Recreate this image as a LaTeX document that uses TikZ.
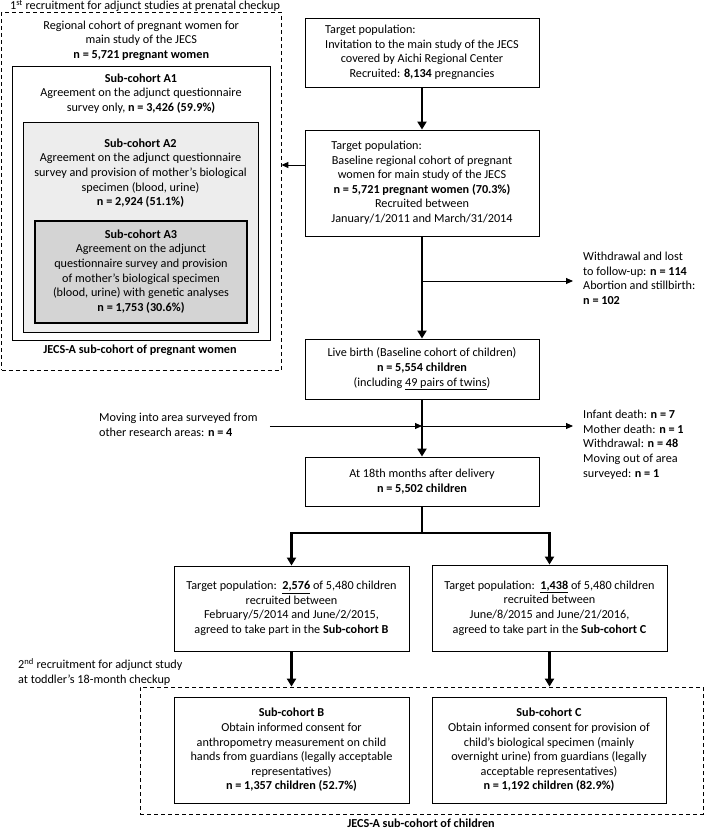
\documentclass[tikz,border=0pt]{standalone}
\usepackage{fontspec}
\setmainfont{Carlito}
\usetikzlibrary{positioning,arrows.meta}
\definecolor{lightfill}{RGB}{237,237,237}
\definecolor{darkfill}{RGB}{212,212,212}

\tikzset{
  every node/.style={font=\fontsize{12.2}{14.6}\selectfont},
  box/.style={draw, line width=0.9pt, align=center, inner sep=0pt},
  dashbox/.style={draw, dashed, dash pattern=on 4pt off 3pt, line width=0.8pt, inner sep=0pt},
  note/.style={align=left, inner sep=0pt},
  headtext/.style={align=center, inner sep=0pt},
  bigarrow/.style={line width=2.4pt, -{Triangle[length=8pt,width=9pt]}},
  smallarrow/.style={line width=0.9pt, -{Triangle[length=7pt,width=6pt]}},
}

\begin{document}
\begin{tikzpicture}[x=1pt,y=-1pt]
\useasboundingbox (0,0) rectangle (704,831);

% first recruitment (pregnant women)
\node[dashbox, minimum width=279.5pt, minimum height=358pt] (preg) at (141.25,191) {};
\node[headtext, anchor=north] (first) at (145,0) {1\textsuperscript{st} recruitment for adjunct studies at prenatal checkup};
\node[headtext, below=9pt of preg.north] (regional) {Regional cohort of pregnant women for\\main study of the JECS\\\textbf{n = 5,721 pregnant women}};
\node[box, minimum width=258pt, minimum height=274pt] (a1) at (141,203) {};
\node[headtext, below=8pt of a1.north] (a1txt) {\textbf{Sub-cohort A1}\\Agreement on the adjunct questionnaire\\survey only, \textbf{n = 3,426 (59.9\%)}};
\node[box, fill=lightfill, minimum width=235pt, minimum height=210pt] (a2) at (140.5,227) {};
\node[headtext, below=17pt of a2.north] (a2txt) {\textbf{Sub-cohort A2}\\Agreement on the adjunct questionnaire\\survey and provision of mother’s biological\\specimen (blood, urine)\\\textbf{n = 2,924 (51.1\%)}};
\node[box, fill=darkfill, line width=1.1pt, minimum width=212pt, minimum height=102pt] (a3) at (141,272) {};
\node[headtext, below=9pt of a3.north] (a3txt) {\textbf{Sub-cohort A3}\\Agreement on the adjunct\\questionnaire survey and provision\\of mother’s biological specimen\\(blood, urine) with genetic analyses\\\textbf{n = 1,753 (30.6\%)}};
\node[headtext] (pregcap) at (140,350) {\textbf{JECS-A sub-cohort of pregnant women}};

% main cohort
\node[box, minimum width=234pt, minimum height=69pt] (recr) at (422,52.5) {\begin{tabular}{@{}c@{}}\multicolumn{1}{@{}l@{}}{Target population:}\\Invitation to the main study of the JECS\\covered by Aichi Regional Center\\Recruited: \textbf{8,134} pregnancies\end{tabular}};
\node[box, minimum width=234pt, minimum height=106pt] (base) at (422,183) {\begin{tabular}{@{}c@{}}\multicolumn{1}{@{}l@{}}{Target population:}\\Baseline regional cohort of pregnant\\women for main study of the JECS\\\textbf{n = 5,721 pregnant women (70.3\%)}\\Recruited between\\January/1/2011 and March/31/2014\end{tabular}};
\node[box, minimum width=234pt, minimum height=60pt] (live) at (422,369) {Live birth (Baseline cohort of children)\\\textbf{n = 5,554 children}\\(including \underline{49 pairs of twins})};
\node[box, minimum width=234pt, minimum height=49pt] (month) at (422,481.5) {At 18th months after delivery\\\textbf{n = 5,502 children}};

\node[note, anchor=north west] (loss1) at (583,252) {Withdrawal and lost\\to follow-up: \textbf{n = 114}\\Abortion and stillbirth:\\\textbf{n = 102}};
\node[note, anchor=north west] (loss2) at (583,410) {Infant death: \textbf{n = 7}\\Mother death: \textbf{n = 1}\\Withdrawal: \textbf{n = 48}\\Moving out of area\\surveyed: \textbf{n = 1}};
\node[note, anchor=north west] (movein) at (99,413) {Moving into area surveyed from\\other research areas: \textbf{n = 4}};

% second recruitment (children)
\node[box, minimum width=235pt, minimum height=85pt] (tgtB) at (291.5,608.5) {Target population:\ \ \textbf{\underline{2,576}} of 5,480 children\\recruited between\\February/5/2014 and June/2/2015,\\agreed to take part in the \textbf{Sub-cohort B}};
\node[box, minimum width=235pt, minimum height=86pt] (tgtC) at (549.5,608) {Target population:\ \ \textbf{\underline{1,438}} of 5,480 children\\recruited between\\June/8/2015 and June/21/2016,\\agreed to take part in the \textbf{Sub-cohort C}};
\node[note, anchor=north west] (second) at (18,658) {2\textsuperscript{nd} recruitment for adjunct study\\at toddler’s 18-month checkup};
\node[dashbox, minimum width=563pt, minimum height=127pt] (child) at (421.5,750.5) {};
\node[box, minimum width=235pt, minimum height=106pt] (subB) at (291.5,750) {\textbf{Sub-cohort B}\\Obtain informed consent for\\anthropometry measurement on child\\hands from guardians (legally acceptable\\representatives)\\\textbf{n = 1,357 children (52.7\%)}};
\node[box, minimum width=234pt, minimum height=106pt] (subC) at (549,750) {\textbf{Sub-cohort C}\\Obtain informed consent for provision of\\child’s biological specimen (mainly\\overnight urine) from guardians (legally\\acceptable representatives)\\\textbf{n = 1,192 children (82.9\%)}};
\node[headtext] (childcap) at (421,823.5) {\textbf{JECS-A sub-cohort of children}};

% connectors
\draw[bigarrow] (recr) -- (base);
\draw[smallarrow] ([yshift=18pt]base.west) -- ([yshift=18pt]base.west -| preg.east);
\draw[bigarrow] (base) -- (live);
\coordinate (drop1) at (base.south |- 0,281);
\draw[smallarrow] (drop1) -- ([xshift=-10pt]drop1 -| loss1.west);
\draw[bigarrow] (live) -- (month);
\coordinate (drop2) at (live.south |- 0,426);
\draw[smallarrow] (drop2) -- ([xshift=-10pt]drop2 -| loss2.west);
\draw[smallarrow] ([xshift=12pt]movein.east |- drop2) -- (drop2);
\coordinate (split) at (month.south |- 0,533);
\draw[bigarrow] (month.south) -- (split) -| (tgtB.north);
\draw[bigarrow] (split) -| (tgtC.north);
\draw[bigarrow] (tgtB) -- (tgtB.south |- child.north);
\draw[bigarrow] (tgtC) -- (tgtC.south |- child.north);
\end{tikzpicture}
\end{document}
